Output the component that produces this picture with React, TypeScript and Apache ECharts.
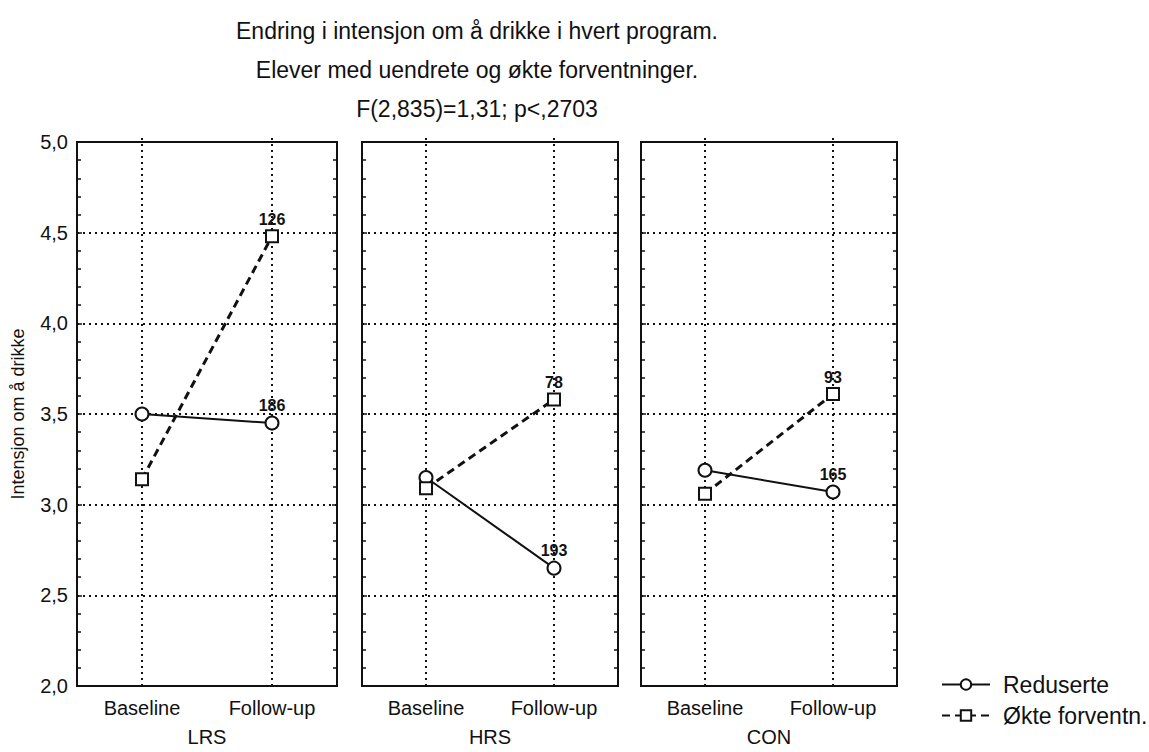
import React, { useEffect, useRef } from "react";
import * as echarts from "echarts";

const categories = ["Baseline", "Follow-up"];
const programs = ["LRS", "HRS", "CON"];
const seriesNames = ["Reduserte", "Økte forventn."];
const reduserte = [
  [3.5, 3.45],
  [3.15, 2.65],
  [3.19, 3.07],
];
const okte = [
  [3.14, 4.48],
  [3.09, 3.58],
  [3.06, 3.61],
];
const nReduserte = [186, 193, 165];
const nOkte = [126, 78, 93];
const titleLines = [
  "Endring i intensjon om å drikke i hvert program.",
  "Elever med uendrete og økte forventninger.",
  "F(2,835)=1,31; p<,2703",
];
const yAxisName = "Intensjon om å drikke";

const FONT = "'Liberation Sans', Arial, sans-serif";

export default function App() {
  const ref = useRef<HTMLDivElement>(null);
  useEffect(() => {
    if (!ref.current) return;
    const chart = echarts.init(ref.current, undefined, { renderer: "svg" });
    const lefts = [77, 362, 641];
    const widths = [260, 256, 256];
    const top = 142;
    const height = 548;
    const grids = lefts.map((l, i) => ({
      left: l,
      top,
      width: widths[i],
      height,
      show: true,
      borderColor: "#111",
      borderWidth: 2,
      backgroundColor: "transparent",
    }));
    const dotted = { color: "#111", width: 2, type: [2, 4] as any };
    const xAxes = programs.map((p, i) => ({
      type: "category",
      gridIndex: i,
      data: categories,
      boundaryGap: true,
      name: p,
      nameLocation: "middle",
      nameGap: 41,
      nameTextStyle: { fontFamily: FONT, fontSize: 20, color: "#111" },
      axisLine: { show: true, lineStyle: { color: "#111", width: 2 } },
      axisTick: {
        show: true,
        alignWithLabel: true,
        inside: true,
        length: height,
        lineStyle: dotted,
      },
      axisLabel: {
        fontFamily: FONT,
        fontSize: 20,
        color: "#111",
        margin: 12,
      },
      splitLine: { show: false },
    }));
    const yAxes: any[] = [];
    programs.forEach((p, i) => {
      yAxes.push({
        type: "value",
        gridIndex: i,
        position: "left",
        min: 2,
        max: 5,
        interval: 0.5,
        name: i === 0 ? yAxisName : "",
        nameLocation: "middle",
        nameGap: 50,
        nameTextStyle: { fontFamily: FONT, fontSize: 18, color: "#111" },
        axisLine: { show: true, lineStyle: { color: "#111", width: 2 } },
        axisTick: { show: true, inside: true, length: 5, lineStyle: { color: "#111", width: 1.5 } },
        minorTick: { show: true, splitNumber: 5, length: 4, lineStyle: { color: "#111", width: 1.5 } },
        axisLabel: {
          show: i === 0,
          fontFamily: FONT,
          fontSize: 20,
          color: "#111",
          margin: 9,
          formatter: (v: number) => v.toFixed(1).replace(".", ","),
        },
        splitLine: { show: true, lineStyle: dotted },
      });
      yAxes.push({
        type: "value",
        gridIndex: i,
        position: "right",
        min: 2,
        max: 5,
        interval: 0.5,
        axisLine: { show: true, lineStyle: { color: "#111", width: 2 } },
        axisTick: { show: true, inside: true, length: 5, lineStyle: { color: "#111", width: 1.5 } },
        minorTick: { show: true, splitNumber: 5, length: 4, lineStyle: { color: "#111", width: 1.5 } },
        axisLabel: { show: false },
        splitLine: { show: false },
      });
    });
    const series: any[] = [];
    programs.forEach((p, i) => {
      const groups = [
        { name: seriesNames[0], vals: reduserte[i], n: nReduserte[i], symbol: "circle", size: 13, dash: "solid", w: 2 },
        { name: seriesNames[1], vals: okte[i], n: nOkte[i], symbol: "rect", size: 12, dash: [8, 5], w: 3 },
      ];
      groups.forEach((g) => {
        series.push({
          type: "line",
          name: g.name,
          xAxisIndex: i,
          yAxisIndex: i * 2,
          symbol: g.symbol,
          symbolSize: g.size,
          showAllSymbol: true,
          lineStyle: { color: "#111", width: g.w, type: g.dash },
          itemStyle: { color: "#fff", borderColor: "#111", borderWidth: 2 },
          data: g.vals.map((v, j) =>
            j === 1
              ? {
                  value: v,
                  label: {
                    show: true,
                    position: "top",
                    distance: 2,
                    formatter: String(g.n),
                    fontFamily: FONT,
                    fontSize: 16,
                    fontWeight: "bold",
                    color: "#111",
                  },
                }
              : v
          ),
          z: 5,
        });
      });
    });
    chart.setOption({
      animation: false,
      backgroundColor: "#fff",
      title: {
        text: titleLines.join("\n"),
        left: 472,
        top: 6,
        textAlign: "center",
        textStyle: {
          fontFamily: FONT,
          fontSize: 23,
          fontWeight: "normal",
          color: "#111",
          lineHeight: 39,
        },
      },
      legend: {
        orient: "vertical",
        left: 936,
        top: 668,
        itemWidth: 48,
        itemHeight: 13,
        itemGap: 8,
        data: seriesNames,
        textStyle: { fontFamily: FONT, fontSize: 23, color: "#111", padding: [0, 0, 0, 8] },
      },
      grid: grids,
      xAxis: xAxes,
      yAxis: yAxes,
      series,
    });
    return () => chart.dispose();
  }, []);
  return (
    <div
      ref={ref}
      style={{ position: "fixed", left: 0, top: 0, width: 1149, height: 752 }}
    />
  );
}
